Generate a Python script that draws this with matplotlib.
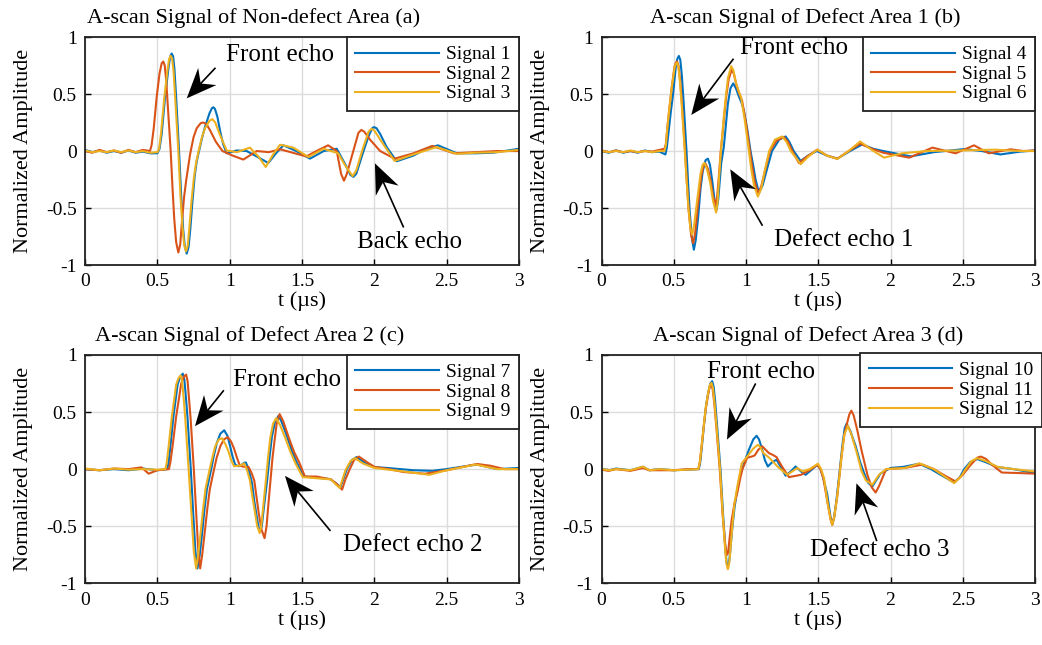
import numpy as np
import matplotlib
matplotlib.use("Agg")
import matplotlib.pyplot as plt
from matplotlib.lines import Line2D
from matplotlib.patches import Polygon
from matplotlib.transforms import IdentityTransform

plt.rcParams['font.family'] = ['Liberation Serif', 'DejaVu Serif']
plt.rcParams['axes.unicode_minus'] = False

# couleurs MATLAB par defaut
colors = ['#0072BD', '#D95319', '#EDB120']

# points (t en us, amplitude normalisee)
# ---- (a) zone saine ----
s1 = [(0, .01), (.05, -.01), (.1, .005), (.15, -.015), (.2, 0), (.25, -.015), (.3, .005), (.35, -.015), (.4, -.005),
      (.45, -.02), (.5, -.02), (.515, .02), (.53, .15), (.553, .47), (.578, .74), (.589, .83), (.599, .855),
      (.609, .83), (.618, .72), (.63, .47), (.65, 0), (.665, -.4), (.678, -.68), (.69, -.84), (.703, -.9),
      (.716, -.84), (.728, -.68), (.742, -.45), (.758, -.22), (.772, -.09), (.788, 0), (.81, .12), (.829, .21),
      (.86, .33), (.877, .375), (.887, .384), (.898, .37), (.915, .3), (.933, .18), (.955, .06), (.979, -.02),
      (1.01, -.01), (1.048, .005), (1.117, 0), (1.19, -.05), (1.267, -.105), (1.32, -.02), (1.371, .05), (1.46, 0),
      (1.555, -.067), (1.65, 0), (1.74, .02), (1.8, -.12), (1.835, -.21), (1.855, -.227), (1.875, -.2), (1.92, -.02),
      (1.96, .13), (1.985, .2), (1.998, .21), (2.015, .2), (2.04, .15), (2.085, .035), (2.154, -.09), (2.27, -.04),
      (2.36, .02), (2.44, .05), (2.57, -.02), (2.7, -.02), (2.82, -.015), (2.9, 0), (3.0, .02)]
s2 = [(0, 0), (.05, -.015), (.1, .01), (.15, -.01), (.2, .005), (.25, -.015), (.3, .01), (.35, -.01), (.4, .01),
      (.449, 0), (.46, .05), (.475, .2), (.495, .47), (.515, .68), (.53, .77), (.541, .785), (.551, .75),
      (.561, .62), (.572, .4), (.592, 0), (.605, -.33), (.617, -.6), (.63, -.8), (.645, -.89), (.658, -.82),
      (.67, -.62), (.685, -.4), (.7, -.25), (.713, -.14), (.726, -.03), (.75, .12), (.772, .2), (.8, .245),
      (.818, .25), (.84, .235), (.865, .18), (.905, .08), (.95, 0), (1.02, -.04), (1.094, -.075), (1.187, 0),
      (1.27, -.01), (1.35, .015), (1.45, -.02), (1.53, -.047), (1.6, 0), (1.68, .05), (1.74, 0), (1.77, -.2),
      (1.79, -.26), (1.81, -.2), (1.85, -.02), (1.89, .16), (1.91, .185), (1.93, .17), (1.97, .1), (2.04, 0),
      (2.14, -.067), (2.27, -.02), (2.4, .045), (2.55, -.02), (2.7, -.01), (2.85, 0), (3.0, 0)]
s3 = [(0, .005), (.05, -.01), (.1, 0), (.15, -.01), (.2, .005), (.25, -.01), (.3, .005), (.35, -.01), (.4, 0),
      (.45, -.015), (.5, -.01), (.512, .02), (.525, .15), (.548, .47), (.572, .73), (.582, .81), (.592, .835),
      (.602, .81), (.612, .7), (.624, .45), (.645, 0), (.66, -.4), (.673, -.66), (.685, -.82), (.698, -.88),
      (.71, -.83), (.722, -.66), (.736, -.44), (.752, -.24), (.768, -.1), (.785, 0), (.81, .13), (.83, .2),
      (.86, .265), (.88, .28), (.9, .25), (.93, .15), (.979, .005), (1.05, -.01), (1.14, .03), (1.2, -.05),
      (1.249, -.14), (1.3, -.03), (1.348, .055), (1.44, .03), (1.544, -.052), (1.65, .02), (1.75, -.02), (1.8, -.13),
      (1.85, -.22), (1.875, -.17), (1.92, .02), (1.96, .17), (1.98, .195), (2.0, .18), (2.04, .1), (2.14, -.087),
      (2.27, -.03), (2.43, .035), (2.57, -.025), (2.7, -.015), (2.85, -.01), (3.0, .01)]

# ---- (b) defaut 1 ----
s4 = [(0, 0), (.05, -.015), (.1, .005), (.15, -.015), (.2, 0), (.25, -.015), (.3, .005), (.35, -.01), (.4, -.005),
      (.442, -.03), (.452, .03), (.465, .18), (.48, .35), (.495, .5), (.515, .75), (.525, .81), (.535, .834),
      (.545, .8), (.556, .66), (.567, .45), (.588, 0), (.6, -.3), (.611, -.547), (.627, -.78), (.639, -.866),
      (.652, -.78), (.669, -.576), (.685, -.33), (.7, -.18), (.72, -.08), (.736, -.067), (.75, -.12), (.765, -.25),
      (.782, -.43), (.796, -.517), (.808, -.42), (.828, -.11), (.846, .035), (.86, .22), (.874, .41), (.892, .55),
      (.911, .593), (.93, .55), (.95, .48), (.97, .42), (.985, .355), (1.01, .18), (1.031, 0), (1.05, -.13),
      (1.066, -.25), (1.082, -.33), (1.094, -.358), (1.115, -.3), (1.147, -.15), (1.18, 0), (1.23, .1),
      (1.274, .128), (1.3, .08), (1.33, 0), (1.378, -.087), (1.43, -.04), (1.49, 0), (1.56, -.04), (1.632, -.067),
      (1.72, 0), (1.805, .058), (1.88, .02), (1.95, 0), (2.14, -.047), (2.3, -.01), (2.51, .017), (2.63, 0),
      (2.76, -.03), (2.9, -.005), (3.0, .005)]
s5 = [(0, .005), (.05, -.01), (.1, .005), (.15, -.01), (.2, 0), (.25, -.01), (.3, 0), (.35, -.005), (.4, .01),
      (.435, .02), (.445, .06), (.455, .2), (.47, .38), (.485, .55), (.505, .74), (.514, .775), (.523, .785),
      (.532, .75), (.544, .62), (.556, .42), (.578, 0), (.59, -.27), (.603, -.52), (.62, -.74), (.634, -.81),
      (.648, -.72), (.665, -.5), (.69, -.22), (.705, -.13), (.719, -.11), (.737, -.16), (.755, -.26), (.772, -.4),
      (.789, -.474), (.8, -.4), (.812, -.22), (.825, 0), (.838, .16), (.85, .32), (.865, .5), (.88, .63), (.9, .71),
      (.915, .68), (.935, .57), (.955, .5), (.973, .44), (1.0, .24), (1.02, .06), (1.04, -.12), (1.06, -.27),
      (1.083, -.372), (1.105, -.31), (1.13, -.18), (1.165, 0), (1.21, .09), (1.262, .122), (1.29, .08), (1.32, 0),
      (1.366, -.105), (1.42, -.05), (1.493, .012), (1.56, -.04), (1.632, -.067), (1.71, 0), (1.79, .064),
      (1.87, .02), (1.95, -.015), (2.13, -.058), (2.29, .03), (2.45, -.02), (2.578, .05), (2.68, -.02),
      (2.83, .015), (2.92, 0), (3.0, .005)]
s6 = [(0, 0), (.05, -.01), (.1, 0), (.15, -.01), (.2, .005), (.25, -.01), (.3, 0), (.35, -.01), (.4, 0), (.435, 0),
      (.445, .05), (.455, .2), (.47, .38), (.485, .55), (.505, .73), (.514, .765), (.523, .776), (.532, .74),
      (.543, .6), (.555, .4), (.576, 0), (.588, -.24), (.6, -.48), (.615, -.68), (.627, -.735), (.64, -.66),
      (.66, -.45), (.685, -.2), (.7, -.12), (.712, -.105), (.73, -.16), (.752, -.28), (.772, -.44), (.793, -.54),
      (.803, -.45), (.814, -.22), (.826, 0), (.838, .18), (.85, .35), (.862, .5), (.875, .64), (.897, .744),
      (.912, .71), (.93, .6), (.95, .52), (.966, .47), (.99, .28), (1.015, .05), (1.035, -.15), (1.055, -.3),
      (1.082, -.4), (1.105, -.33), (1.125, -.2), (1.16, 0), (1.2, .1), (1.25, .128), (1.28, .08), (1.31, 0),
      (1.378, -.116), (1.43, -.05), (1.493, .012), (1.56, -.04), (1.632, -.07), (1.71, 0), (1.79, .084),
      (1.87, .01), (1.955, -.058), (2.08, -.02), (2.25, 0), (2.5, .005), (2.72, .012), (2.9, 0), (3.0, 0)]

# ---- (c) defaut 2 ----
s7 = [(0, 0), (.1, -.01), (.2, 0), (.3, -.01), (.4, .005), (.5, -.01), (.569, 0), (.578, .06), (.59, .2),
      (.611, .46), (.64, .74), (.658, .81), (.676, .836), (.687, .78), (.698, .62), (.708, .46), (.731, 0),
      (.749, -.415), (.763, -.72), (.777, -.87), (.792, -.76), (.807, -.59), (.825, -.36), (.842, -.18), (.872, 0),
      (.891, .12), (.911, .228), (.935, .31), (.962, .34), (.985, .29), (1.003, .2), (1.02, .11), (1.038, .038),
      (1.06, .025), (1.08, .035), (1.1, .055), (1.112, .058), (1.13, 0), (1.154, -.12), (1.17, -.28), (1.185, -.4),
      (1.2, -.51), (1.211, -.547), (1.222, -.5), (1.235, -.35), (1.257, -.12), (1.275, .1), (1.292, .286),
      (1.315, .42), (1.338, .468), (1.36, .41), (1.396, .287), (1.43, .16), (1.465, .053), (1.511, -.064),
      (1.6, -.075), (1.696, -.088), (1.73, -.12), (1.765, -.158), (1.785, -.09), (1.81, 0), (1.845, .08),
      (1.876, .105), (1.93, .06), (2.0, .018), (2.09, .01), (2.27, -.01), (2.4, -.015), (2.5, 0), (2.6, .02),
      (2.71, .04), (2.85, 0), (3.0, .01)]
s8 = [(0, 0), (.1, -.01), (.2, .005), (.3, 0), (.39, .015), (.44, -.04), (.5, -.01), (.58, 0), (.59, .06),
      (.605, .2), (.63, .46), (.665, .75), (.683, .81), (.699, .828), (.709, .77), (.72, .6), (.73, .44), (.752, 0),
      (.77, -.42), (.783, -.72), (.796, -.87), (.81, -.75), (.826, -.57), (.845, -.35), (.862, -.18), (.892, 0),
      (.91, .1), (.935, .2), (.96, .26), (.987, .28), (1.01, .24), (1.03, .18), (1.05, .1), (1.07, .03), (1.1, .02),
      (1.13, .02), (1.15, -.03), (1.17, -.1), (1.185, -.24), (1.2, -.38), (1.22, -.53), (1.241, -.605),
      (1.255, -.5), (1.268, -.3), (1.282, -.1), (1.296, .1), (1.31, .25), (1.325, .4), (1.345, .482), (1.37, .42),
      (1.41, .27), (1.445, .15), (1.48, .06), (1.52, -.065), (1.6, -.065), (1.7, -.09), (1.74, -.13),
      (1.777, -.18), (1.8, -.09), (1.83, 0), (1.86, .08), (1.893, .11), (1.95, .06), (2.0, .02), (2.1, 0),
      (2.2, -.025), (2.35, -.04), (2.5, -.01), (2.71, .045), (2.8, .03), (2.9, 0), (3.0, 0)]
s9 = [(0, .005), (.1, -.01), (.2, .005), (.3, -.005), (.4, 0), (.5, -.005), (.555, 0), (.565, .06), (.578, .2),
      (.6, .46), (.63, .74), (.647, .8), (.662, .82), (.672, .76), (.682, .62), (.693, .44), (.716, 0),
      (.737, -.42), (.752, -.72), (.768, -.87), (.782, -.75), (.798, -.57), (.815, -.36), (.833, -.17), (.862, 0),
      (.88, .1), (.9, .2), (.925, .26), (.946, .27), (.97, .22), (.99, .16), (1.01, .08), (1.03, .025), (1.07, .03),
      (1.1, .05), (1.12, -.01), (1.14, -.1), (1.158, -.25), (1.175, -.38), (1.19, -.5), (1.207, -.56),
      (1.218, -.5), (1.23, -.35), (1.25, -.1), (1.265, .1), (1.28, .27), (1.3, .4), (1.322, .447), (1.35, .38),
      (1.385, .27), (1.42, .15), (1.455, .05), (1.505, -.07), (1.6, -.08), (1.7, -.09), (1.73, -.13),
      (1.76, -.165), (1.78, -.09), (1.8, -.01), (1.835, .07), (1.866, .096), (1.92, .05), (2.0, .01), (2.2, -.02),
      (2.38, -.05), (2.5, -.01), (2.7, .04), (2.85, 0), (3.0, 0)]

# ---- (d) defaut 3 ----
s10 = [(0, 0), (.05, -.01), (.1, .005), (.2, -.01), (.287, .02), (.33, -.01), (.4, 0), (.5, -.01), (.6, -.005),
       (.673, 0), (.683, .06), (.693, .18), (.708, .374), (.725, .57), (.74, .68), (.753, .75), (.766, .77),
       (.776, .72), (.786, .6), (.8, .374), (.823, 0), (.842, -.415), (.858, -.72), (.866, -.82), (.874, -.854),
       (.882, -.82), (.889, -.74), (.904, -.53), (.92, -.34), (.939, -.18), (.955, -.07), (.973, 0), (1.0, .1),
       (1.02, .17), (1.05, .26), (1.073, .292), (1.09, .26), (1.112, .17), (1.13, .08), (1.151, .023), (1.18, .06),
       (1.211, .082), (1.24, .02), (1.274, -.058), (1.31, -.02), (1.343, .023), (1.38, -.02), (1.412, -.05),
       (1.45, -.01), (1.493, .038), (1.515, 0), (1.535, -.08), (1.562, -.22), (1.585, -.42), (1.597, -.48),
       (1.61, -.42), (1.625, -.28), (1.645, -.05), (1.668, .22), (1.683, .36), (1.696, .398), (1.72, .34),
       (1.759, .2), (1.79, .06), (1.817, -.035), (1.845, -.12), (1.874, -.152), (1.9, -.1), (1.93, -.04), (2.0, .01),
       (2.09, .02), (2.197, .047), (2.28, 0), (2.36, -.06), (2.44, -.117), (2.48, -.07), (2.51, 0), (2.55, .06),
       (2.6, .088), (2.66, .06), (2.74, .018), (2.85, 0), (3.0, -.035)]
s11 = [(0, -.005), (.05, -.015), (.1, 0), (.2, -.015), (.287, .01), (.33, -.01), (.4, -.01), (.5, -.01), (.6, 0),
       (.67, 0), (.68, .06), (.69, .17), (.705, .35), (.72, .52), (.737, .65), (.748, .72), (.759, .74), (.769, .7),
       (.78, .58), (.795, .36), (.818, 0), (.838, -.4), (.855, -.65), (.863, -.72), (.87, -.75), (.877, -.72),
       (.885, -.62), (.9, -.45), (.92, -.3), (.939, -.21), (.96, -.08), (.975, 0), (1.008, .1), (1.04, .11),
       (1.06, .12), (1.085, .17), (1.112, .2), (1.135, .17), (1.158, .14), (1.185, .125), (1.211, .105), (1.25, .02),
       (1.297, -.07), (1.34, -.06), (1.38, -.05), (1.44, -.01), (1.493, .038), (1.515, 0), (1.535, -.08),
       (1.565, -.3), (1.585, -.44), (1.597, -.49), (1.61, -.42), (1.63, -.25), (1.66, .1), (1.68, .3), (1.695, .38),
       (1.715, .48), (1.729, .512), (1.745, .47), (1.77, .34), (1.8, .16), (1.84, -.05), (1.87, -.16),
       (1.897, -.205), (1.92, -.15), (1.97, 0), (2.1, .01), (2.22, .04), (2.3, 0), (2.38, -.06), (2.45, -.108),
       (2.5, -.05), (2.55, .03), (2.6, .1), (2.625, .11), (2.66, .09), (2.7, .04), (2.77, -.03), (2.9, -.035),
       (3.0, -.04)]
s12 = [(0, 0), (.05, -.01), (.1, 0), (.2, -.01), (.287, .022), (.33, -.01), (.4, 0), (.5, -.01), (.6, -.005),
       (.67, 0), (.68, .06), (.69, .17), (.706, .36), (.722, .55), (.738, .67), (.75, .74), (.761, .755),
       (.771, .71), (.782, .58), (.796, .37), (.82, 0), (.84, -.42), (.858, -.75), (.866, -.84), (.874, -.877),
       (.882, -.84), (.89, -.74), (.905, -.5), (.92, -.3), (.94, -.15), (.97, .05), (1.008, .11), (1.05, .18),
       (1.082, .213), (1.1, .19), (1.12, .14), (1.16, .1), (1.22, .02), (1.285, -.05), (1.355, .01), (1.39, -.02),
       (1.44, 0), (1.498, .047), (1.52, 0), (1.54, -.08), (1.565, -.3), (1.585, -.44), (1.597, -.488), (1.61, -.42),
       (1.63, -.25), (1.66, .1), (1.68, .3), (1.705, .38), (1.73, .3), (1.765, .15), (1.8, -.02), (1.83, -.1),
       (1.874, -.137), (1.92, -.05), (1.97, 0), (2.1, .01), (2.2, .05), (2.3, 0), (2.38, -.07), (2.44, -.123),
       (2.49, -.06), (2.52, 0), (2.56, .07), (2.6, .096), (2.66, .07), (2.74, .02), (2.85, 0), (3.0, -.02)]

titres = ['A-scan Signal of Non-defect Area (a)', 'A-scan Signal of Defect Area 1 (b)',
          'A-scan Signal of Defect Area 2 (c)', 'A-scan Signal of Defect Area 3 (d)']
signaux = [[s1, s2, s3], [s4, s5, s6], [s7, s8, s9], [s10, s11, s12]]
noms = [['Signal 1', 'Signal 2', 'Signal 3'], ['Signal 4', 'Signal 5', 'Signal 6'],
        ['Signal 7', 'Signal 8', 'Signal 9'], ['Signal 10', 'Signal 11', 'Signal 12']]
xticks = [0, 0.5, 1, 1.5, 2, 2.5, 3]
xlabels = ['0', '0.5', '1', '1.5', '2', '2.5', '3']
yticks = [-1, -0.5, 0, 0.5, 1]
ylabels = ['-1', '-0.5', '0', '0.5', '1']

# annotations : (texte, pos texte, queue, pointe)
annots = [
    [('Front echo', (0.972, 0.842), (0.898, 0.725), (0.703, 0.462)),
     ('Back echo', (1.878, -0.796), (2.2, -0.664), (2.004, -0.108))],
    [('Front echo', (0.96, 0.9), (0.91, 0.804), (0.621, 0.316)),
     ('Defect echo 1', (1.192, -0.78), (1.111, -0.649), (0.891, -0.16))],
    [('Front echo', (1.025, 0.782), (0.956, 0.685), (0.76, 0.376)),
     ('Defect echo 2', (1.783, -0.668), (1.693, -0.536), (1.382, -0.059))],
    [('Front echo', (0.73, 0.847), (1.064, 0.744), (0.868, 0.259)),
     ('Defect echo 3', (1.446, -0.712), (1.903, -0.624), (1.764, -0.124))],
]
titre_x = [0.389, 0.469, 0.38, 0.477]

fig = plt.figure(figsize=(10.42, 6.45), dpi=100)
positions = [[0.0816, 0.5891, 0.4165, 0.3535], [0.5773, 0.5891, 0.416, 0.3535],
             [0.0816, 0.0957, 0.4165, 0.354], [0.5773, 0.0957, 0.416, 0.354]]

axes = []
for k in range(4):
    ax = fig.add_axes(positions[k])
    for pts, c, nom in zip(signaux[k], colors, noms[k]):
        tt, aa = zip(*pts)
        ax.plot(tt, aa, color=c, lw=1.5, label=nom)
    ax.set_xlim(0, 3)
    ax.set_ylim(-1, 1)
    ax.set_xticks(xticks)
    ax.set_xticklabels(xlabels)
    ax.set_yticks(yticks)
    ax.set_yticklabels(ylabels)
    ax.tick_params(direction='in', length=4, width=1, labelsize=14, pad=6)
    ax.grid(True, color='#dcdcdc', lw=1.0)
    ax.set_axisbelow(True)
    for s in ax.spines.values():
        s.set_linewidth(1.3)
        s.set_color('#222222')
    ax.set_xlabel('t (\u00b5s)', fontsize=16, labelpad=1)
    ax.set_ylabel('Normalized Amplitude', fontsize=16, labelpad=9)
    ax.set_title(titres[k], fontsize=16, pad=10, x=titre_x[k])

    kw = dict(fontsize=14, handlelength=4.3, handletextpad=0.35, labelspacing=0.1,
              borderpad=0.45, borderaxespad=0, fancybox=False, framealpha=1, edgecolor='#222222')
    if k == 3:
        leg = ax.legend(loc='upper left', bbox_to_anchor=(0.596, 1.009), **kw)
    else:
        leg = ax.legend(loc='upper right', bbox_to_anchor=(1, 1), **kw)
    leg.get_frame().set_linewidth(1.3)
    leg.set_clip_on(False)
    axes.append(ax)

fig.canvas.draw()


def fleche(ax, queue, pointe, L=30, W=25, creux=0.32):
    p0 = ax.transData.transform(queue)
    p1 = ax.transData.transform(pointe)
    d = p1 - p0
    u = d / np.hypot(*d)
    n = np.array([-u[1], u[0]])
    base = p1 - L * u
    c1 = base + W / 2 * n
    c2 = base - W / 2 * n
    nt = p1 - (1 - creux) * L * u
    fig.add_artist(Line2D([p0[0], nt[0]], [p0[1], nt[1]], color='black', lw=1.2,
                          transform=IdentityTransform()))
    fig.add_artist(Polygon([p1, c1, nt, c2], closed=True, color='black', lw=0,
                           transform=IdentityTransform()))


for k, ax in enumerate(axes):
    for texte, pos, queue, pointe in annots[k]:
        ax.text(pos[0], pos[1], texte, fontsize=18, ha='left', va='center', clip_on=False, zorder=6)
        fleche(ax, queue, pointe)

fig.savefig('out.png', dpi=100)
